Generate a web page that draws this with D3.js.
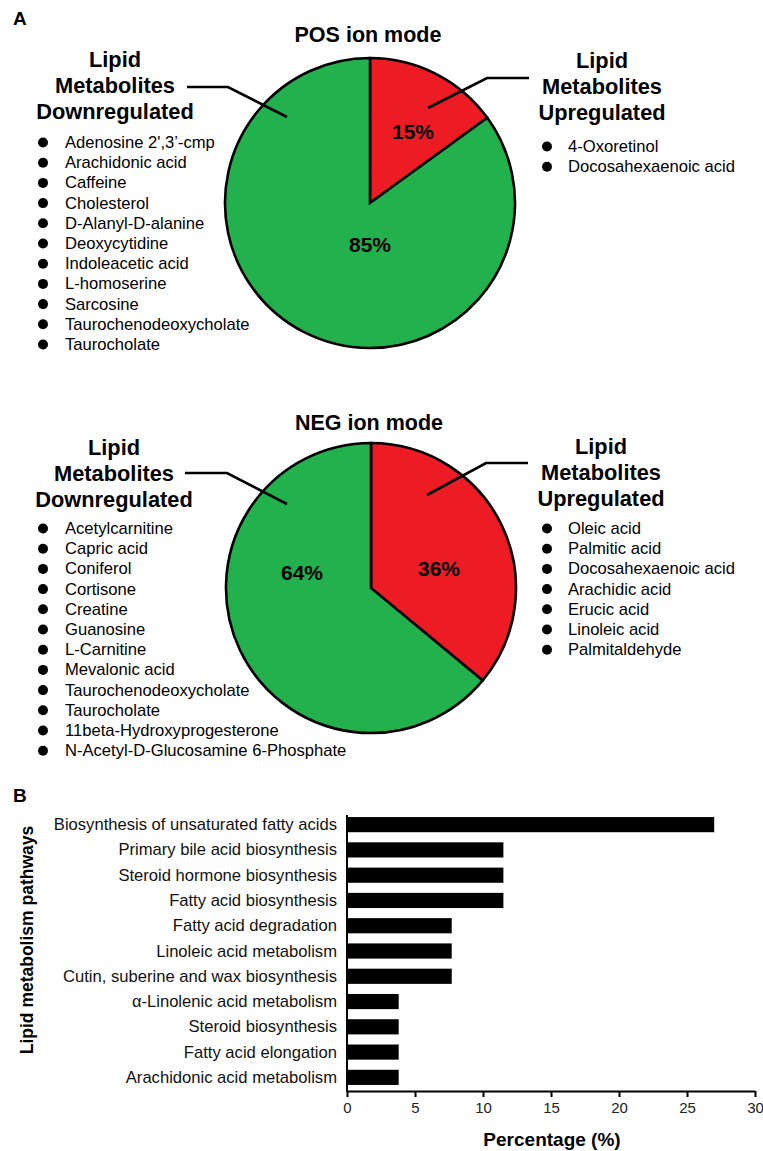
<!DOCTYPE html>
<html>
<head>
<meta charset="utf-8">
<script src="https://cdn.jsdelivr.net/npm/d3@7"></script>
<style>
  html, body { margin: 0; padding: 0; background: #fff; }
  svg { display: block; font-family: "Liberation Sans", Arial, sans-serif; }
</style>
</head>
<body>
<svg id="fig" width="763" height="1151"></svg>
<script>
// ---- Panel A: share of up/down-regulated lipid metabolites ----
const pieGroups = ["Upregulated", "Downregulated"];
const posShares = [15, 85];
const negShares = [36, 64];

const posDown = ["Adenosine 2',3’-cmp", "Arachidonic acid", "Caffeine", "Cholesterol",
  "D-Alanyl-D-alanine", "Deoxycytidine", "Indoleacetic acid", "L-homoserine",
  "Sarcosine", "Taurochenodeoxycholate", "Taurocholate"];
const posUp = ["4-Oxoretinol", "Docosahexaenoic acid"];
const negDown = ["Acetylcarnitine", "Capric acid", "Coniferol", "Cortisone", "Creatine",
  "Guanosine", "L-Carnitine", "Mevalonic acid", "Taurochenodeoxycholate", "Taurocholate",
  "11beta-Hydroxyprogesterone", "N-Acetyl-D-Glucosamine 6-Phosphate"];
const negUp = ["Oleic acid", "Palmitic acid", "Docosahexaenoic acid", "Arachidic acid",
  "Erucic acid", "Linoleic acid", "Palmitaldehyde"];

// ---- Panel B: lipid metabolism pathways ----
const pathways = ["Biosynthesis of unsaturated fatty acids", "Primary bile acid biosynthesis",
  "Steroid hormone biosynthesis", "Fatty acid biosynthesis", "Fatty acid degradation",
  "Linoleic acid metabolism", "Cutin, suberine and wax biosynthesis",
  "α-Linolenic acid metabolism", "Steroid biosynthesis", "Fatty acid elongation",
  "Arachidonic acid metabolism"];
const pathwayPct = [27.0, 11.5, 11.5, 11.5, 7.7, 7.7, 7.7, 3.8, 3.8, 3.8, 3.8];
const pctTicks = [0, 5, 10, 15, 20, 25, 30];

const svg = d3.select("#fig");
const colors = { Upregulated: "#ed1c24", Downregulated: "#22b14c" };

svg.append("text").attr("x", 13).attr("y", 25).attr("font-size", 19)
  .attr("font-weight", "bold").text("A");
svg.append("text").attr("x", 13).attr("y", 802).attr("font-size", 19)
  .attr("font-weight", "bold").text("B");

function drawPie(cfg) {
  const g = svg.append("g");
  const pie = d3.pie().sort(null).value(d => d.v).startAngle(0).endAngle(2 * Math.PI);
  const arcs = pie(pieGroups.map((k, i) => ({ k, v: cfg.shares[i] })));
  const arc = d3.arc().innerRadius(0).outerRadius(cfg.r);
  const pg = g.append("g").attr("transform", `translate(${cfg.cx},${cfg.cy})`);
  pg.selectAll("path").data(arcs).join("path")
    .attr("d", arc).attr("fill", d => colors[d.data.k])
    .attr("stroke", "#000").attr("stroke-width", 2.6).attr("stroke-linejoin", "miter");

  // percentage labels
  pg.selectAll("text.pct").data(arcs).join("text").attr("class", "pct")
    .attr("x", (d, i) => cfg.pctPos[i][0]).attr("y", (d, i) => cfg.pctPos[i][1])
    .attr("text-anchor", "middle").attr("font-size", 21).attr("font-weight", "bold")
    .text(d => d.data.v + "%");

  g.append("text").attr("x", cfg.cx - 2).attr("y", cfg.titleY).attr("text-anchor", "middle")
    .attr("font-size", 21.5).attr("font-weight", "bold").text(cfg.title);

  // group headings
  const heads = [
    { x: cfg.leftHeadX, y: cfg.leftHeadY, lines: ["Lipid", "Metabolites", "Downregulated"] },
    { x: cfg.rightHeadX, y: cfg.rightHeadY, lines: ["Lipid", "Metabolites", "Upregulated"] }
  ];
  heads.forEach(h => {
    g.append("g").selectAll("text").data(h.lines).join("text")
      .attr("x", h.x).attr("y", (d, i) => h.y + i * 26)
      .attr("text-anchor", "middle").attr("font-size", 21.8).attr("font-weight", "bold")
      .text(d => d);
  });

  // leader lines
  const line = d3.line();
  [cfg.leftLeader, cfg.rightLeader].forEach(pts => {
    g.append("path").attr("d", line(pts)).attr("fill", "none")
      .attr("stroke", "#000").attr("stroke-width", 2.6);
  });

  // bulleted lists
  const lists = [
    { items: cfg.downList, bx: 43, tx: 65, y0: cfg.leftListY },
    { items: cfg.upList, bx: 547, tx: 568, y0: cfg.rightListY }
  ];
  lists.forEach(L => {
    const lg = g.append("g");
    const rows = lg.selectAll("g").data(L.items).join("g")
      .attr("transform", (d, i) => `translate(0,${L.y0 + i * 20.2})`);
    rows.append("circle").attr("cx", L.bx).attr("cy", -5.5).attr("r", 5).attr("fill", "#000");
    rows.append("text").attr("x", L.tx).attr("y", 0).attr("font-size", 16.6).text(d => d);
  });
}

drawPie({
  cx: 370, cy: 203, r: 145, shares: posShares, title: "POS ion mode", titleY: 42,
  pctPos: [[43, -64], [0, 49]],
  leftHeadX: 115, leftHeadY: 67, rightHeadX: 602, rightHeadY: 68,
  leftLeader: [[187, 87], [228, 87], [287, 117]],
  rightLeader: [[428, 108], [487, 78], [529, 78]],
  downList: posDown, upList: posUp, leftListY: 148, rightListY: 152
});

drawPie({
  cx: 371, cy: 588, r: 145, shares: negShares, title: "NEG ion mode", titleY: 430,
  pctPos: [[68, -12], [-69, -8]],
  leftHeadX: 114, leftHeadY: 455, rightHeadX: 601, rightHeadY: 454,
  leftLeader: [[185, 473], [227, 473], [287, 504]],
  rightLeader: [[427, 495], [486, 463], [528, 463]],
  downList: negDown, upList: negUp, leftListY: 534, rightListY: 534
});

// ---- Panel B bar chart ----
const x = d3.scaleLinear().domain([0, 30]).range([347, 755]);
const y = d3.scaleBand().domain(pathways).range([812, 1090]).paddingInner(0.4).paddingOuter(0.2);
const bars = pathways.map((p, i) => ({ p, v: pathwayPct[i] }));

const bg = svg.append("g");
bg.selectAll("rect").data(bars).join("rect")
  .attr("x", x(0)).attr("y", d => y(d.p))
  .attr("width", d => x(d.v) - x(0)).attr("height", y.bandwidth())
  .attr("fill", "#000");

// category labels
bg.selectAll("text.cat").data(bars).join("text").attr("class", "cat")
  .attr("x", x(0) - 10).attr("y", d => y(d.p) + y.bandwidth() / 2 + 5.5)
  .attr("text-anchor", "end").attr("font-size", 16.6).attr("fill", "#111").text(d => d.p);

// x axis
const xAxis = d3.axisBottom(x).tickValues(pctTicks).tickSize(6).tickPadding(5)
  .tickSizeOuter(0).tickFormat(d3.format("d"));
const xg = svg.append("g").attr("transform", "translate(0,1091)").call(xAxis);
xg.select(".domain").attr("stroke", "#000").attr("stroke-width", 2);
xg.selectAll(".tick line").attr("stroke", "#000").attr("stroke-width", 2);
xg.selectAll(".tick text").attr("font-size", 15).attr("fill", "#222")
  .attr("font-family", "'Liberation Sans', Arial, sans-serif");

// y axis line
const yAxis = d3.axisLeft(y).tickSize(0).tickFormat("").tickSizeOuter(0);
const yg = svg.append("g").attr("transform", `translate(${x(0)},0)`).call(yAxis);
yg.select(".domain").attr("stroke", "#000").attr("stroke-width", 2)
  .attr("d", "M0,815V1092");

svg.append("text").attr("x", 552).attr("y", 1146).attr("text-anchor", "middle")
  .attr("font-size", 19).attr("font-weight", "bold").text("Percentage (%)");
svg.append("text").attr("transform", "translate(33,940) rotate(-90)")
  .attr("text-anchor", "middle").attr("font-size", 17.5).attr("font-weight", "bold")
  .text("Lipid metabolism pathways");
</script>
</body>
</html>
